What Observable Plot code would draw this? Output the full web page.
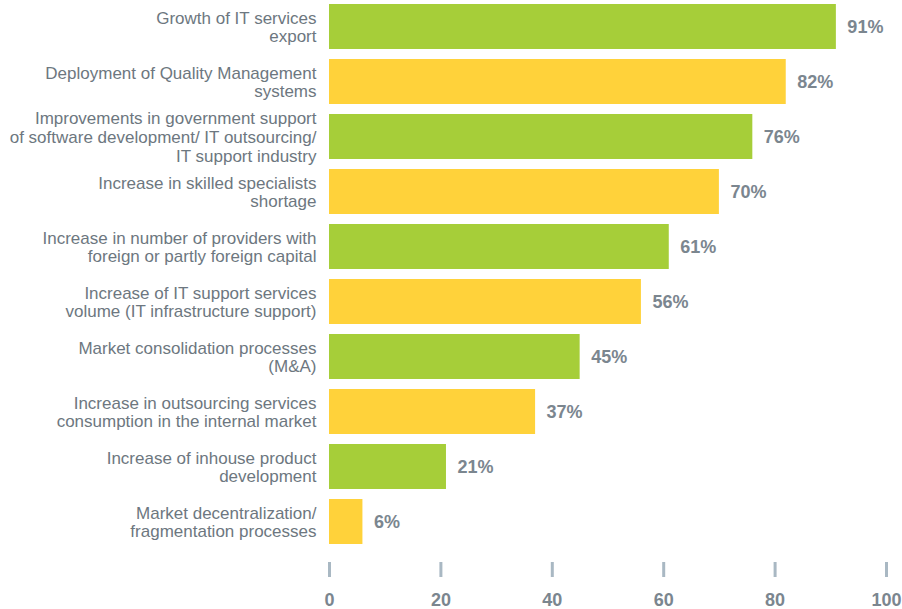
<!DOCTYPE html>
<html>
<head>
<meta charset="utf-8">
<script src="https://cdn.jsdelivr.net/npm/d3@7"></script>
<script src="https://cdn.jsdelivr.net/npm/@observablehq/plot@0.6"></script>
<style>
  html, body { margin: 0; padding: 0; background: #ffffff; }
  #chart svg { display: block; }
</style>
</head>
<body>
<div id="chart"></div>
<script>
const categories = [
  "Growth of IT services\nexport",
  "Deployment of Quality Management\nsystems",
  "Improvements in government support\nof software development/ IT outsourcing/\nIT support industry",
  "Increase in skilled specialists\nshortage",
  "Increase in number of providers with\nforeign or partly foreign capital",
  "Increase of IT support services\nvolume (IT infrastructure support)",
  "Market consolidation processes\n(M&A)",
  "Increase in outsourcing services\nconsumption in the internal market",
  "Increase of inhouse product\ndevelopment",
  "Market decentralization/\nfragmentation processes"
];
const values = [91, 82, 76, 70, 61, 56, 45, 37, 21, 6];
const groups = ["A", "B", "A", "B", "A", "B", "A", "B", "A", "B"];
const xTicks = [0, 20, 40, 60, 80, 100];

const data = categories.map((c, i) => ({label: c, value: values[i], group: groups[i]}));

const chart = Plot.plot({
  width: 902,
  height: 609,
  marginLeft: 329,
  marginRight: 16,
  marginTop: 0,
  marginBottom: 47,
  x: {domain: [0, 100], axis: null},
  y: {domain: categories, range: [-2, 550], paddingInner: 0.18, paddingOuter: 0.09, axis: null},
  color: {domain: ["A", "B"], range: ["#a6ce39", "#ffd23a"]},
  style: {fontFamily: "'Liberation Sans', Arial, sans-serif", background: "#ffffff"},
  marks: [
    Plot.barX(data, {x: "value", y: "label", fill: "group"}),
    Plot.text(data, {x: 0, y: "label", text: "label", textAnchor: "end", dx: -13, fontSize: 17, fill: "#6d7780", lineHeight: 1.1}),
    Plot.text(data, {x: "value", y: "label", text: d => d.value + "%", textAnchor: "start", dx: 11, fontSize: 18, fontWeight: "bold", fill: "#7b868f"}),
    Plot.axisX({ticks: xTicks, tickSize: 15, tickPadding: 16, stroke: "#a9b8c3", strokeWidth: 3, fill: "#7b868f", fontSize: 18, fontWeight: "bold", tickFormat: d => String(d), label: null})
  ]
});
document.getElementById("chart").appendChild(chart);
</script>
</body>
</html>
